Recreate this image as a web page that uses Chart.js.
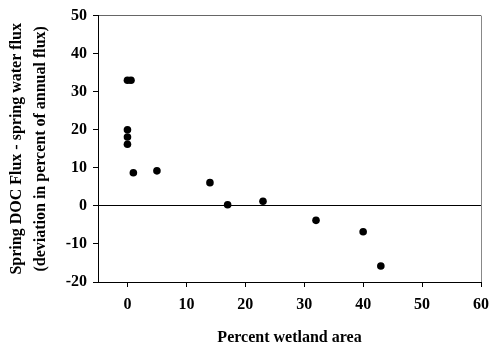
<!DOCTYPE html>
<html>
<head>
<meta charset="utf-8">
<script src="https://cdn.jsdelivr.net/npm/chart.js@4/dist/chart.umd.min.js"></script>
<style>
  html, body { margin: 0; padding: 0; background: #fff; }
  #wrap { width: 489px; height: 346px; }
</style>
</head>
<body>
<div id="wrap"><canvas id="c" width="489" height="346"></canvas></div>
<script>
// percent wetland area vs. deviation of spring DOC flux from spring water flux
const wetlandPct = [0, 0.6, 0, 0, 0, 1, 5, 14, 17, 23, 32, 40, 43];
const deviation = [33, 33, 20, 18.1, 16.2, 8.7, 9.2, 6.1, 0.3, 1.2, -3.8, -6.8, -15.8];

const xTitle = 'Percent wetland area';
const yTitle = ['Spring DOC Flux - spring water flux', '(deviation in percent of annual flux)'];

const points = wetlandPct.map((x, i) => ({ x, y: deviation[i] }));

const serif = "'Liberation Serif', 'Times New Roman', serif";

new Chart(document.getElementById('c'), {
  type: 'scatter',
  data: {
    datasets: [{
      data: points,
      pointRadius: 3.8,
      pointHoverRadius: 3.8,
      backgroundColor: '#000',
      borderColor: '#000',
      borderWidth: 0,
    }],
  },
  options: {
    responsive: false,
    animation: false,
    layout: { padding: { top: 15, right: 0, left: 0, bottom: 0 } },
    plugins: { legend: { display: false }, tooltip: { enabled: false } },
    scales: {
      x: {
        type: 'linear',
        min: -5,
        max: 60,
        afterBuildTicks: (scale) => {
          scale.ticks = scale.ticks.filter((t) => t.value >= 0);
        },
        afterFit: (scale) => {
          scale.height = 64;
          scale.paddingLeft = 0;
          scale.paddingRight = 8;
        },
        border: { display: true, color: '#000', width: 1 },
        grid: {
          color: (ctx) => (ctx.tick && ctx.tick.value === 60 ? '#888' : 'rgba(0,0,0,0)'),
          tickColor: '#000',
          tickLength: 5,
        },
        ticks: {
          stepSize: 10,
          color: '#000',
          padding: 8,
          font: { family: serif, size: 16, weight: 'bold' },
        },
        title: {
          display: true,
          text: xTitle,
          color: '#000',
          padding: { top: 0, bottom: 0 },
          font: { family: serif, size: 16, weight: 'bold', lineHeight: 1 },
        },
      },
      y: {
        type: 'linear',
        min: -20,
        max: 50,
        afterFit: (scale) => { scale.width = 98; },
        border: { display: true, color: '#000', width: 1 },
        grid: {
          color: (ctx) => {
            if (!ctx.tick) return 'rgba(0,0,0,0)';
            if (ctx.tick.value === 0) return '#000';
            if (ctx.tick.value === 50) return '#666';
            return 'rgba(0,0,0,0)';
          },
          tickColor: '#000',
          tickLength: 5,
        },
        ticks: {
          stepSize: 10,
          color: '#000',
          padding: 6,
          font: { family: serif, size: 16, weight: 'bold' },
        },
        title: {
          display: true,
          text: yTitle,
          color: '#000',
          padding: { top: 5, bottom: 0 },
          font: { family: serif, size: 16, weight: 'bold', lineHeight: 1.5 },
        },
      },
    },
  },
});
</script>
</body>
</html>
